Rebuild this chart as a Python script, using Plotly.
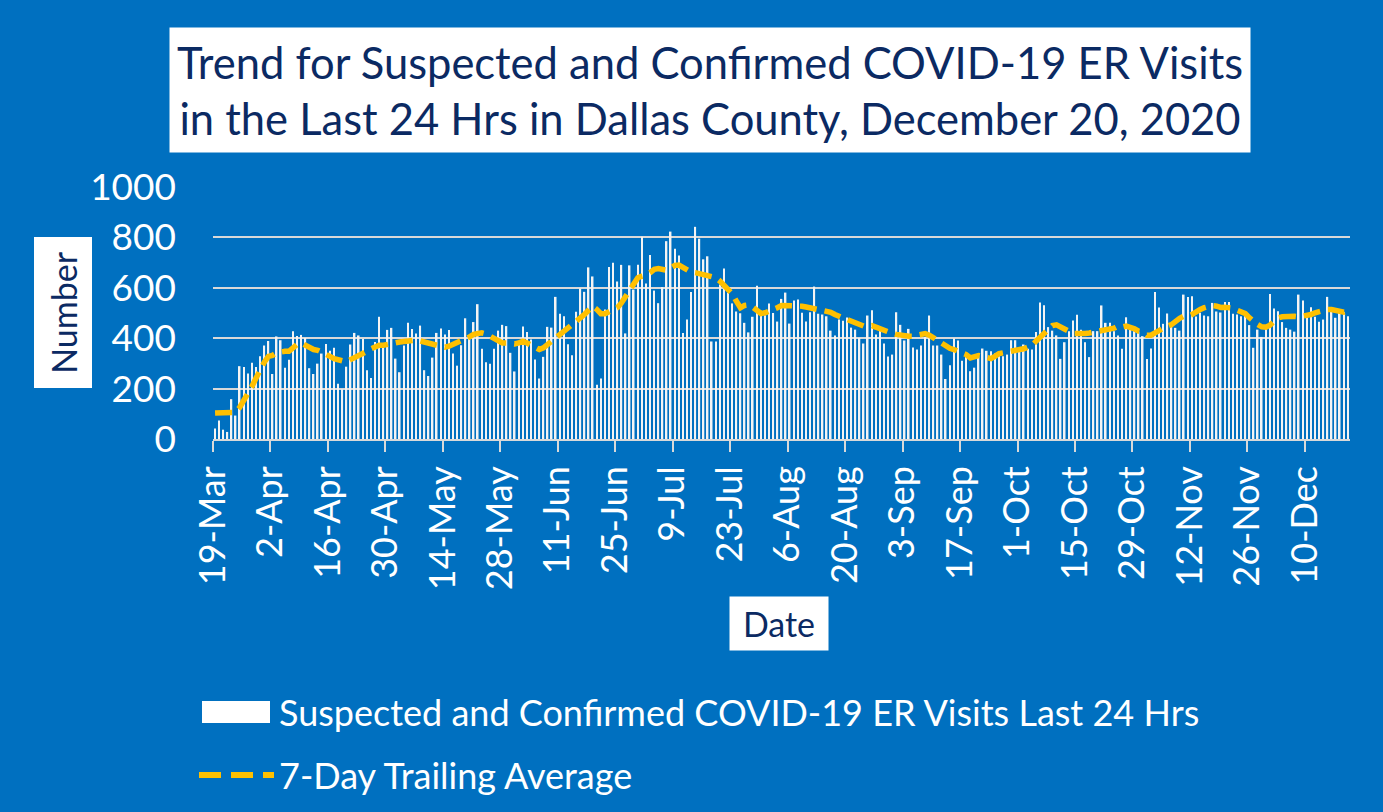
import pandas as pd
import plotly.graph_objects as go

# daily ER visits, 19-Mar to 20-Dec 2020
er_visits = [
    42, 73, 37, 28, 158, 93, 289, 286, 260, 303,
    286, 328, 371, 389, 258, 407, 392, 283, 314, 428,
    409, 413, 401, 281, 258, 299, 339, 377, 350, 362,
    219, 197, 287, 375, 421,
    411, 397, 273, 242, 385, 485, 376, 433, 441, 319,
    265, 371, 461, 437, 419, 450, 273, 250, 323, 421,
    438, 415, 433, 339, 291, 372, 479, 408, 464, 535,
    358, 305, 299, 358,
    430, 453, 448, 342, 268, 389, 446, 425, 395, 315,
    240, 326, 445, 442, 564, 497, 487, 376, 332, 505,
    597, 584, 681, 645, 215, 240, 514, 683, 699, 625,
    691, 419, 689, 593,
    691, 803, 617, 730, 589, 539, 603, 785, 823, 755,
    728, 421, 474, 583, 842, 795, 713, 725, 387, 387,
    613, 677, 580, 538, 506, 499, 461, 423, 485, 608,
    509, 491, 538, 500,
    466, 556, 581, 458, 550, 554, 501, 466, 503, 605,
    497, 494, 487, 430, 411, 474, 469, 482, 442, 434,
    401, 379, 490, 511, 415, 430, 379, 327, 335, 503,
    453, 391, 437, 363,
    355, 371, 405, 490, 371, 371, 335, 238, 293, 399,
    391, 311, 342, 269, 283, 328, 359, 350, 348, 339,
    328, 328, 335, 392, 392, 348, 375, 358, 355, 425,
    542, 531, 444, 430,
    411, 318, 384, 428, 470, 493, 434, 384, 325, 428,
    428, 530, 461, 461, 428, 411, 358, 483, 448, 428,
    426, 408, 317, 359, 583, 522, 457, 498, 448, 441,
    430, 573, 563, 566,
    486, 501, 490, 487, 540, 506, 502, 544, 544, 497,
    494, 487, 493, 452, 362, 434, 405, 438, 575, 518,
    507, 464, 441, 434, 426, 573, 550, 498, 523, 485,
    465, 474, 564, 522, 481, 514, 503, 487,
]

# 7-day trailing average as drawn
avg_7day = [
    103, 103, 103, 103, 103, 106, 125,
    150, 176, 209, 242, 275, 305, 328,
    332, 342, 347, 348, 348, 362, 375,
    381, 372, 362, 355, 352, 342, 335,
    328, 319, 313, 309, 306, 315, 322,
    331, 339, 348, 358, 366, 372, 372,
    376, 381, 384, 385, 387, 389, 392,
    393, 389, 385, 380, 373, 368, 366,
    364, 368, 375, 381, 388, 395, 405,
    415, 419, 421, 417, 408, 397, 388,
    381, 381, 379, 377, 381, 388, 381,
    372, 368, 355, 362, 375, 388, 401,
    412, 428, 445, 454, 468, 481, 494,
    511, 527, 514, 497, 497, 505, 517,
    521, 540, 567, 593, 622, 640, 646,
    650, 660, 673, 676, 673, 670, 679,
    689, 690, 679, 670, 662, 660, 656,
    650, 646, 644, 640, 627, 609, 593,
    576, 547, 521, 530, 532, 523, 507,
    498, 501, 506, 511, 521, 530, 530,
    530, 530, 528, 527, 524, 521, 517,
    514, 511, 511, 503, 494, 487, 482,
    474, 464, 458, 452, 448, 448, 450,
    444, 437, 432, 424, 419, 415, 411,
    408, 408, 408, 412, 417, 418, 412,
    401, 388, 379, 368, 360, 355, 348,
    342, 335, 322, 328, 331, 328, 323,
    319, 328, 339, 342, 344, 346, 348,
    355, 358, 362, 371, 388, 405, 419,
    432, 450, 453, 445, 437, 428, 419,
    419, 417, 419, 421, 424, 425, 426,
    432, 437, 440, 448, 444, 448, 444,
    437, 428, 424, 412, 412, 421, 432,
    441, 448, 454, 468, 479, 487, 487,
    494, 507, 514, 521, 526, 530, 527,
    522, 523, 523, 519, 511, 503, 498,
    481, 464, 454, 445, 444, 452, 468,
    481, 485, 487, 487, 487, 485, 487,
    493, 494, 501, 507, 511, 514, 514,
    511, 507, 503, 509,
]

dates = pd.date_range("2020-03-19", periods=len(er_visits), freq="D")
tick_labels = ["19-Mar", "2-Apr", "16-Apr", "30-Apr", "14-May", "28-May",
               "11-Jun", "25-Jun", "9-Jul", "23-Jul", "6-Aug", "20-Aug",
               "3-Sep", "17-Sep", "1-Oct", "15-Oct", "29-Oct", "12-Nov",
               "26-Nov", "10-Dec"]
# ticks sit on the category boundary (half a day before the date)
tick_pos = pd.date_range("2020-03-18 12:00", periods=len(tick_labels), freq="14D")

BLUE = "#0070C0"
NAVY = "#0B2A63"
GOLD = "#FFC000"
GRID = "#D9D9D9"
FONT = "Lato"

W, H = 1383, 812
L, R, T, B = 213, 33, 187, 373


def px(x):
    return (x - L) / (W - L - R)


def py(y):
    return (H - B - y) / (H - T - B)


fig = go.Figure()
fig.add_trace(go.Bar(x=dates, y=er_visits, marker=dict(color="#F4F4F4", line_width=0),
                     name="Suspected and Confirmed COVID-19 ER Visits Last 24 Hrs"))
fig.add_trace(go.Scatter(x=dates, y=avg_7day, mode="lines",
                         line=dict(color=GOLD, width=5.5, dash="17px,8px"),
                         name="7-Day Trailing Average"))

fig.update_layout(
    width=W, height=H, showlegend=False,
    paper_bgcolor=BLUE, plot_bgcolor=BLUE,
    margin=dict(l=L, r=R, t=T, b=B),
    bargap=0.62,
    font=dict(family=FONT, color="white"),
)
fig.update_xaxes(
    range=[pd.Timestamp("2020-03-18 12:00"), dates[-1] + pd.Timedelta(hours=12)],
    tickvals=tick_pos, ticktext=tick_labels, tickangle=-90,
    tickfont=dict(size=36, color="white"),
    ticks="outside", ticklen=11, tickwidth=1.5, tickcolor=GRID,
    ticklabelstandoff=0,
    showline=True, linecolor=GRID, linewidth=1.5, showgrid=False,
)
fig.update_yaxes(
    range=[0, 1000], dtick=200, tickfont=dict(size=37, color="white"),
    showgrid=True, gridcolor=GRID, gridwidth=1.5, zeroline=False,
    ticklabelstandoff=36,
)


def label(x, y, text, **kw):
    fig.add_annotation(x=px(x), y=py(y), xref="paper", yref="paper",
                       showarrow=False, text=text, **kw)


label(710, 90,
      "Trend for Suspected and Confirmed COVID-19 ER Visits<br>"
      "in the Last 24 Hrs in Dallas County, December 20, 2020",
      xanchor="center", yanchor="middle",
      font=dict(size=43.5, color=NAVY, family=FONT), bgcolor="white",
      width=1072, height=116, borderpad=4, align="center")
label(62.5, 313, "Number", xanchor="center", yanchor="middle", textangle=-90,
      font=dict(size=34, color=NAVY, family=FONT),
      bgcolor="white", width=142, height=49, borderpad=4)
label(779, 623, "Date", xanchor="center", yanchor="middle",
      font=dict(size=34, color=NAVY, family=FONT),
      bgcolor="white", width=90, height=45, borderpad=4)

# legend drawn by hand to match the swatch shapes
fig.add_shape(type="rect", xref="paper", yref="paper",
              x0=px(202), x1=px(270), y0=py(723), y1=py(701),
              fillcolor="white", line_width=0)
label(277, 712, fig.data[0].name, xanchor="left", yanchor="middle",
      font=dict(size=36, color="white", family=FONT))
fig.add_shape(type="line", xref="paper", yref="paper",
              x0=px(199), x1=px(274), y0=py(775), y1=py(775),
              line=dict(color=GOLD, width=6, dash="22px,10px"))
label(277, 775, fig.data[1].name, xanchor="left", yanchor="middle",
      font=dict(size=36, color="white", family=FONT))

fig.write_html("out.html", config={"displayModeBar": False},
               post_script="document.body.style.margin='0';")
